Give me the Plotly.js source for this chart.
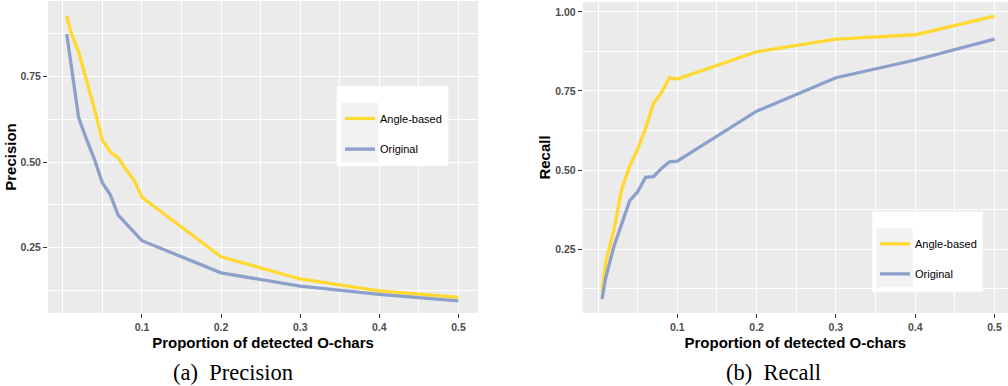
<!DOCTYPE html>
<html>
<head>
<meta charset="utf-8">
<script src="https://cdn.plot.ly/plotly-3.0.1.min.js"></script>
<style>html,body{margin:0;padding:0;background:#fff;overflow:hidden}#chart{width:1008px;height:386px}</style>
</head>
<body>
<div id="chart"></div>
<script>
// Proportion of detected O-chars
const proportion = [0.005, 0.01, 0.02, 0.03, 0.04, 0.05, 0.06, 0.07, 0.08, 0.09, 0.1, 0.2, 0.3, 0.4, 0.5];
// Precision
const precisionAngle = [0.927, 0.881, 0.822, 0.740, 0.655, 0.564, 0.530, 0.512, 0.477, 0.447, 0.397, 0.223, 0.158, 0.123, 0.104];
const precisionOriginal = [0.874, 0.790, 0.630, 0.566, 0.508, 0.439, 0.404, 0.345, 0.321, 0.296, 0.270, 0.176, 0.137, 0.113, 0.094];
// Recall
const recallAngle = [0.115, 0.210, 0.310, 0.440, 0.513, 0.565, 0.632, 0.711, 0.745, 0.792, 0.788, 0.874, 0.914, 0.928, 0.987];
const recallOriginal = [0.091, 0.162, 0.257, 0.331, 0.403, 0.431, 0.477, 0.479, 0.505, 0.526, 0.528, 0.686, 0.792, 0.848, 0.914];
// Tick labels
const xTickVals = [0.1, 0.2, 0.3, 0.4, 0.5];
const xTickText = ['0.1', '0.2', '0.3', '0.4', '0.5'];
const precTickVals = [0.25, 0.5, 0.75];
const precTickText = ['0.25', '0.50', '0.75'];
const recTickVals = [0.25, 0.5, 0.75, 1.0];
const recTickText = ['0.25', '0.50', '0.75', '1.00'];
const seriesNames = ['Angle-based', 'Original'];
const seriesColors = ['#FFD92F', '#8DA0CB'];

const W = 1008, H = 386;
const px = v => v / W;
const py = v => 1 - v / H;

const sans = 'Liberation Sans, Arial, sans-serif';

function line(y, i, xa, ya, leg, grp) {
  return {
    type: 'scatter', mode: 'lines', x: proportion, y: y,
    name: seriesNames[i], xaxis: xa, yaxis: ya, legend: leg, legendgroup: grp,
    line: {color: seriesColors[i], width: 3.3},
    hoverinfo: 'x+y'
  };
}

const data = [
  line(precisionAngle, 0, 'x', 'y', 'legend', 'a'),
  line(precisionOriginal, 1, 'x', 'y', 'legend', 'b'),
  line(recallAngle, 0, 'x2', 'y2', 'legend2', 'c'),
  line(recallOriginal, 1, 'x2', 'y2', 'legend2', 'd')
];

function xAxis(domain, range, anchor) {
  return {
    domain: domain, range: range, anchor: anchor,
    tickvals: xTickVals, ticktext: xTickText,
    ticks: 'outside', ticklen: 4, tickwidth: 1, tickcolor: '#333333',
    showgrid: true, gridcolor: '#FFFFFF', gridwidth: 1.3,
    minor: {tick0: 0, dtick: 0.05, showgrid: true, gridcolor: '#FFFFFF', gridwidth: 0.7, ticks: ''},
    zeroline: false, showline: false,
    tickfont: {family: sans, size: 10.5, color: '#4D4D4D', weight: 'bold'},
    title: {text: 'Proportion of detected O-chars', font: {family: sans, size: 15, color: '#000000', weight: 'bold'}, standoff: 5}
  };
}
function yAxis(domain, range, anchor, tv, tt, title) {
  return {
    domain: domain, range: range, anchor: anchor,
    tickvals: tv, ticktext: tt,
    ticks: 'outside', ticklen: 4, tickwidth: 1, tickcolor: '#333333',
    showgrid: true, gridcolor: '#FFFFFF', gridwidth: 1.3,
    minor: {tick0: 0, dtick: 0.125, showgrid: true, gridcolor: '#FFFFFF', gridwidth: 0.7, ticks: ''},
    zeroline: false, showline: false,
    tickfont: {family: sans, size: 10.5, color: '#4D4D4D', weight: 'bold'},
    title: {text: title, font: {family: sans, size: 15, color: '#000000', weight: 'bold'}, standoff: 0}
  };
}

function legendBox(x0, y0, x1, y1, kx0, ky0, kx1, ky1) {
  return [
    {type: 'rect', xref: 'paper', yref: 'paper', x0: px(x0), x1: px(x1), y0: py(y1), y1: py(y0), fillcolor: '#FFFFFF', line: {width: 0}, layer: 'above'},
    {type: 'rect', xref: 'paper', yref: 'paper', x0: px(kx0), x1: px(kx1), y0: py(ky1), y1: py(ky0), fillcolor: '#F2F2F2', line: {width: 0}, layer: 'above'}
  ];
}

const legendFont = {family: sans, size: 11, color: '#000000'};

const layout = {
  width: W, height: H,
  margin: {l: 0, r: 0, t: 0, b: 0},
  paper_bgcolor: '#FFFFFF', plot_bgcolor: '#EBEBEB',
  showlegend: true,
  xaxis: xAxis([px(48), px(478)], [-0.0187, 0.5247], 'y'),
  yaxis: yAxis([1 - 313 / H, 1 - 1 / H], [0.0585, 0.9708], 'x', precTickVals, precTickText, 'Precision'),
  xaxis2: xAxis([px(582.7), 1], [-0.0193, 0.5170], 'y2'),
  yaxis2: yAxis([1 - 313 / H, 1 - 2 / H], [0.0475, 1.0316], 'x2', recTickVals, recTickText, 'Recall'),
  legend: {x: px(340), y: py(104), xanchor: 'left', yanchor: 'top', bgcolor: 'rgba(0,0,0,0)', borderwidth: 0,
           font: legendFont, tracegroupgap: 11.6, itemwidth: 30},
  legend2: {x: px(875), y: py(229.3), xanchor: 'left', yanchor: 'top', bgcolor: 'rgba(0,0,0,0)', borderwidth: 0,
           font: legendFont, tracegroupgap: 11, itemwidth: 30},
  shapes: [].concat(
    legendBox(336.7, 86, 448.3, 166, 341, 102.7, 378.3, 162.7),
    legendBox(872.3, 211.7, 982.7, 291.7, 876, 228.3, 912.7, 287.3)
  ),
  annotations: [
    {text: '(a)&nbsp;&nbsp;Precision', xref: 'paper', yref: 'paper', x: px(233), y: py(372), xanchor: 'center', yanchor: 'middle', showarrow: false,
     font: {family: 'Liberation Serif, Times New Roman, serif', size: 22.5, color: '#000000'}},
    {text: '(b)&nbsp;&nbsp;Recall', xref: 'paper', yref: 'paper', x: px(773.5), y: py(372), xanchor: 'center', yanchor: 'middle', showarrow: false,
     font: {family: 'Liberation Serif, Times New Roman, serif', size: 22.5, color: '#000000'}}
  ]
};

Plotly.newPlot('chart', data, layout, {displayModeBar: false});
</script>
</body>
</html>
